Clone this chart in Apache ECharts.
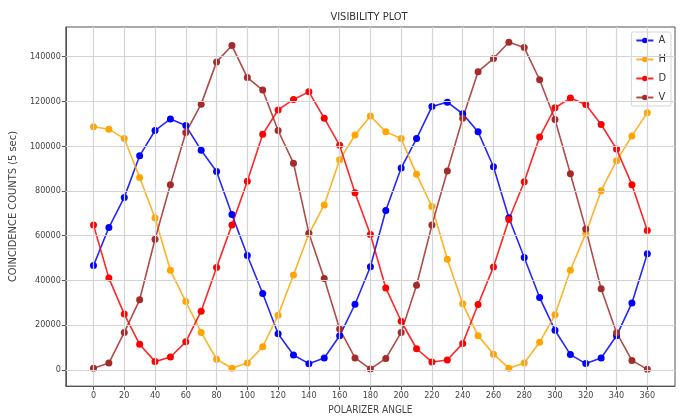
<!DOCTYPE html>
<html>
<head>
<meta charset="utf-8">
<script src="https://cdn.jsdelivr.net/npm/echarts@6/dist/echarts.min.js"></script>
<style>
  html, body { margin: 0; padding: 0; background: #fff; }
  #main { width: 685px; height: 420px; }
</style>
</head>
<body>
<div id="main"></div>
<script>
// polarizer angles 0..360 step 10
const angles = [0, 10, 20, 30, 40, 50, 60, 70, 80, 90, 100, 110, 120, 130, 140, 150, 160, 170, 180,
    190, 200, 210, 220, 230, 240, 250, 260, 270, 280, 290, 300, 310, 320, 330, 340, 350, 360];

const seriesA = [46600, 63600, 77100, 95700, 107000, 112200, 109200, 98200, 88700, 69400, 51100, 34100, 16100,
    6600, 2750, 5300, 15200, 29300, 46100, 71200, 90200, 103400, 117700, 119700, 114500, 106400, 90800,
    68000, 50200, 32300, 17700, 6800, 2760, 5300, 15200, 29900, 51900];

const seriesH = [108700, 107600, 103400, 86000, 67900, 44500, 30500, 16700, 4700, 700, 3000, 10300, 24400,
    42400, 60800, 73700, 93900, 105000, 113500, 106400, 103400, 87400, 73000, 49400, 29500, 15200, 7000,
    700, 3000, 12300, 24600, 44500, 61000, 80100, 93500, 104600, 115000];

const seriesD = [64800, 41000, 24900, 11400, 3650, 5700, 12500, 26200, 45700, 64800, 84300, 105300, 116200,
    120900, 124300, 112500, 100400, 79200, 60500, 36600, 21700, 9400, 3500, 4400, 11800, 29200, 46000,
    67200, 84100, 104100, 117200, 121500, 118600, 109700, 98700, 82800, 62300];

const seriesV = [700, 3000, 16700, 31300, 58400, 82800, 106100, 118800, 137700, 145000, 130700, 125100, 107000,
    92400, 61100, 40800, 18200, 5300, 400, 5000, 16700, 37800, 64700, 88900, 112500, 133300, 139200,
    146500, 144100, 129700, 111900, 87700, 63000, 36200, 16600, 4200, 200];

// tick labels
const xTicks = [0, 20, 40, 60, 80, 100, 120, 140, 160, 180, 200, 220, 240, 260, 280, 300, 320, 340, 360];
const yTicks = [0, 20000, 40000, 60000, 80000, 100000, 120000, 140000];

const names = ["A", "H", "D", "V"];
const colors = ["#0000ff", "#ffa500", "#ff0000", "#a52a2a"];
const allData = [seriesA, seriesH, seriesD, seriesV];

const pair = (vals) => angles.map((a, i) => [a, vals[i]]);

const chart = echarts.init(document.getElementById("main"));
const textFont = "'Liberation Sans Narrow', 'DejaVu Sans Condensed', 'Liberation Sans', sans-serif";
const gridColor = "#d4d4d4";

// grid lines drawn as mark lines at the tick values
const gridLines = xTicks.map((v) => ({ xAxis: v })).concat(yTicks.map((v) => ({ yAxis: v })));

const option = {
    animation: false,
    backgroundColor: "#fff",
    textStyle: { fontFamily: textFont, color: "#333" },
    title: {
        text: "VISIBILITY PLOT",
        left: 364,
        textAlign: "center",
        top: 7,
        textStyle: { fontSize: 11, fontWeight: "normal", color: "#333", fontFamily: textFont },
    },
    legend: {
        data: names,
        orient: "vertical",
        right: 14,
        top: 32,
        padding: [3, 5, 3, 4],
        itemWidth: 17,
        itemHeight: 7,
        itemGap: 8,
        backgroundColor: "#fff",
        borderColor: "#d6d6d6",
        borderWidth: 1,
        borderRadius: 2,
        textStyle: { fontSize: 11, color: "#333", fontFamily: textFont },
    },
    grid: {
        left: 64,
        right: 10,
        top: 27,
        bottom: 32,
        show: true,
        borderColor: "#555",
        borderWidth: 1,
    },
    xAxis: {
        type: "value",
        min: -18,
        max: 378,
        name: "POLARIZER ANGLE",
        nameLocation: "middle",
        nameGap: 18,
        nameTextStyle: { fontSize: 10, color: "#444" },
        axisLine: { show: true, onZero: false, lineStyle: { color: "#555" } },
        axisTick: { show: true, length: 4, customValues: xTicks, lineStyle: { color: "#555" } },
        axisLabel: { customValues: xTicks, fontSize: 9, color: "#444", margin: 5, formatter: (v) => String(v) },
        splitLine: { show: false },
    },
    yAxis: {
        type: "value",
        min: -7300,
        max: 153300,
        name: "COINCIDENCE COUNTS (5 sec)",
        nameLocation: "middle",
        nameGap: 38,
        nameTextStyle: { fontSize: 11, color: "#444" },
        axisLine: { show: true, onZero: false, lineStyle: { color: "#555" } },
        axisTick: { show: true, length: 4, customValues: yTicks, lineStyle: { color: "#555" } },
        axisLabel: { customValues: yTicks, fontSize: 9, color: "#444", margin: 5, formatter: (v) => String(v) },
        splitLine: { show: false },
    },
    series: [
        {
            name: "grid",
            type: "line",
            data: [],
            silent: true,
            z: 1,
            markLine: {
                silent: true,
                symbol: "none",
                label: { show: false },
                lineStyle: { color: gridColor, width: 1.2, type: "solid" },
                data: gridLines,
            },
        },
    ].concat(names.map((n, k) => ({
        name: n,
        type: "line",
        data: pair(allData[k]),
        symbol: "circle",
        symbolSize: 7,
        showSymbol: true,
        z: 3,
        itemStyle: { color: colors[k] },
        lineStyle: { color: colors[k], width: 1.6, opacity: 0.85 },
    }))),
};

chart.setOption(option);
</script>
</body>
</html>
